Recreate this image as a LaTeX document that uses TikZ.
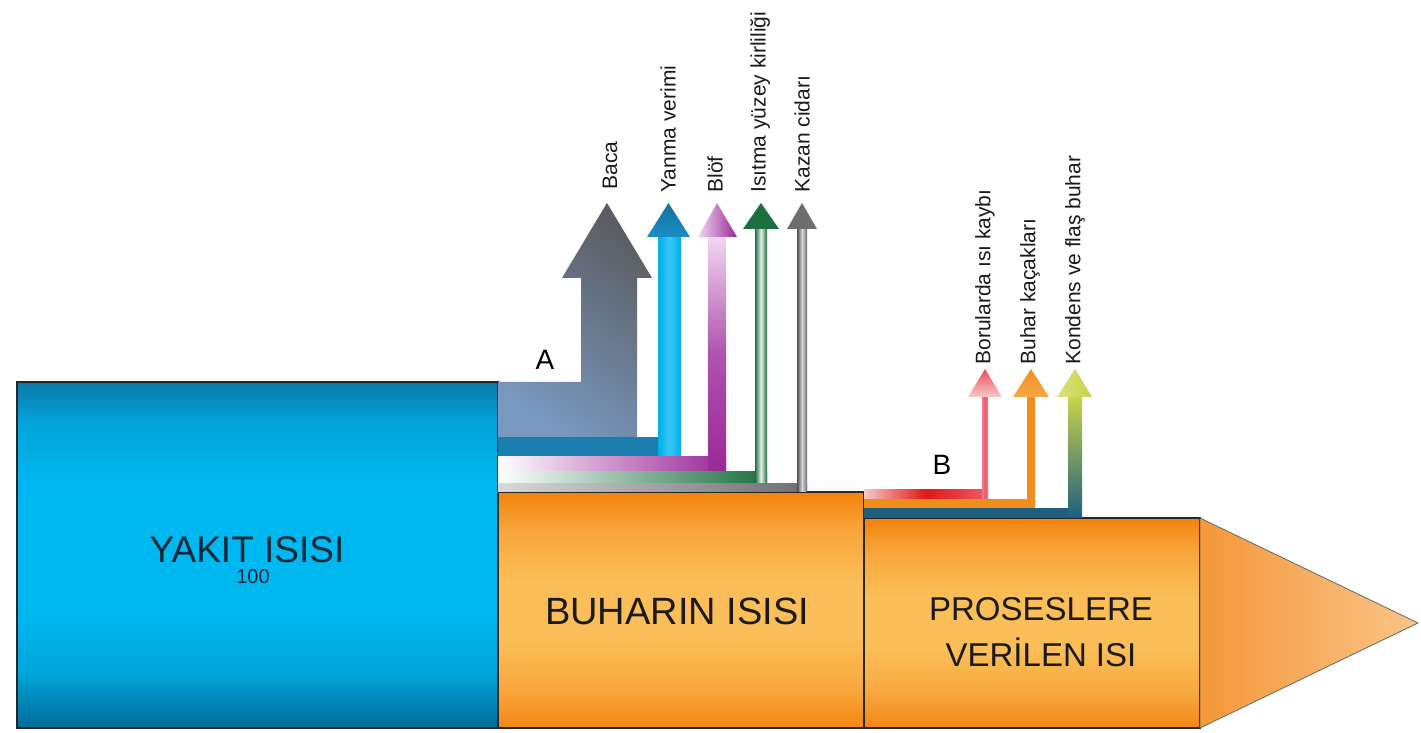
\documentclass[tikz,border=0pt]{standalone}
\usepackage{fontspec}
\setmainfont{Liberation Sans}
\definecolor{fuelTop}{HTML}{0A78A8}
\definecolor{fuelMid}{HTML}{00B8F0}
\definecolor{fuelBot}{HTML}{006A98}
\definecolor{steamTop}{HTML}{F2820E}
\definecolor{steamMid}{HTML}{FBBE58}
\definecolor{steamBot}{HTML}{F38616}
\definecolor{tipL}{HTML}{F4983A}
\definecolor{tipR}{HTML}{FBC488}
\definecolor{slate}{HTML}{5C5D62}
\definecolor{steel}{HTML}{7898BE}
\definecolor{blueBar}{HTML}{1A7FAE}
\definecolor{cyanStem}{HTML}{00AEE6}
\definecolor{cyanLight}{HTML}{38C6F6}
\definecolor{blueHead}{HTML}{1A8EC6}
\definecolor{plum}{HTML}{9A2898}
\definecolor{plumLight}{HTML}{F2D6F0}
\definecolor{leaf}{HTML}{1B7040}
\definecolor{leafLight}{HTML}{E8EEE8}
\definecolor{ash}{HTML}{6E6E70}
\definecolor{ashLight}{HTML}{D8D8D8}
\definecolor{rose}{HTML}{EE5A6A}
\definecolor{roseLight}{HTML}{F8C8C8}
\definecolor{scarlet}{HTML}{E01818}
\definecolor{amber}{HTML}{F08E1C}
\definecolor{amberLight}{HTML}{F6A848}
\definecolor{teal}{HTML}{1D5E7E}
\definecolor{lime}{HTML}{C8D44A}
\definecolor{limeLight}{HTML}{DCE07A}
\definecolor{ink}{HTML}{1A1A1A}
\definecolor{navy}{HTML}{0B2838}
% block fills: dark edges, a wide bright band in the middle
\pgfdeclareverticalshading{fuelfill}{100bp}{color(0bp)=(fuelBot); color(25bp)=(fuelBot);
  color(33bp)=(fuelMid!75!fuelBot); color(42bp)=(fuelMid); color(60bp)=(fuelMid);
  color(69bp)=(fuelMid!70!fuelTop); color(75bp)=(fuelTop); color(100bp)=(fuelTop)}
\pgfdeclareverticalshading{steamfill}{100bp}{color(0bp)=(steamBot); color(25bp)=(steamBot);
  color(34bp)=(steamMid!65!steamBot); color(44bp)=(steamMid); color(56bp)=(steamMid);
  color(67bp)=(steamMid!60!steamTop); color(75bp)=(steamTop); color(100bp)=(steamTop)}
\begin{document}
\begin{tikzpicture}[x=0.5pt,y=0.5pt,
  boxline/.style={draw=black!85,line width=0.6pt},
  lbl/.style={font=\fontsize{10.5}{12}\selectfont,text=ink,inner sep=0pt,rotate=90,anchor=west},
  letter/.style={font=\fontsize{14}{16}\selectfont,text=black,inner sep=0pt},
  boxtext/.style={text=ink,inner sep=0pt,align=center}]
\useasboundingbox (0,0) rectangle (1421,733);

% main energy blocks
\shade[boxline,shading=fuelfill] (17,5) rectangle (498,351);
\shade[boxline,shading=steamfill] (498,5) rectangle (864,241);
\shade[boxline,shading=steamfill] (864,5) rectangle (1200,215);
\shade[left color=tipL,right color=tipR,draw=black!60,line width=0.4pt]
  (1200,215) -- (1418,110) -- (1200,5) -- cycle;

% boiler losses (A)
\shade[shading=axis,top color=slate,bottom color=steel,shading angle=-35]
  (498,351) -- (581,351) -- (581,455) -- (562,455) -- (607,530) -- (652,455)
  -- (637,455) -- (637,296) -- (498,296) -- cycle;

\fill[blueBar] (498,276) rectangle (681,296);
\shade[left color=cyanStem,right color=cyanStem,middle color=cyanLight] (658,276) rectangle (681,496);
\shade[top color=blueHead!80!black,bottom color=blueHead] (647,496) -- (668.5,530) -- (690,496) -- cycle;

\shade[left color=white,right color=plum] (498,261) rectangle (726,276);
\shade[top color=plumLight,bottom color=plum,middle color=plum!80!white] (708,261) rectangle (726,496);
\shade[left color=plumLight,right color=plum] (698,496) -- (717,530) -- (737,496) -- cycle;

\shade[left color=white,right color=leaf] (498,249) rectangle (767,261);
\shade[left color=leaf,right color=leaf,middle color=leafLight] (755,249) rectangle (767,504);
\fill[leaf] (743,504) -- (761,530) -- (779,504) -- cycle;

\shade[left color=ashLight,right color=ash] (498,241) rectangle (807,249);
\shade[left color=ash!70!black,right color=ash,middle color=ashLight] (797,241) rectangle (807,504);
\fill[ash] (787,504) -- (802,530) -- (817,504) -- cycle;

% distribution losses (B)
\shade[left color=roseLight,right color=rose,middle color=scarlet] (864,234) rectangle (988,243);
\shade[left color=rose!80!white,right color=rose!80!white,middle color=rose] (982,234) rectangle (988,336);
\shade[top color=rose!80!scarlet,bottom color=roseLight] (968,336) -- (985,364) -- (1002,336) -- cycle;

\fill[amber] (864,225) rectangle (1035,234);
\fill[amber] (1027,225) rectangle (1035,336);
\shade[top color=amber,bottom color=amberLight] (1013,336) -- (1031,364) -- (1049,336) -- cycle;

\fill[teal] (864,215) rectangle (1082,225);
\shade[top color=lime,bottom color=teal] (1068,215) rectangle (1082,336);
\shade[left color=limeLight,right color=lime] (1057,336) -- (1075,364) -- (1092,336) -- cycle;

% loss labels
\node[lbl] (baca)   at (610,543) {Baca};
\node[lbl] (yanma)  at (668,540) {Yanma verimi};
\node[lbl] (blof)   at (715,540) {Blöf};
\node[lbl] (isitma) at (760,540) {Isıtma yüzey kirliliği};
\node[lbl] (kazan)  at (802,540) {Kazan cidarı};
\node[lbl] (boru)   at (985,368) {Borularda ısı kaybı};
\node[lbl] (kacak)  at (1030,368) {Buhar kaçakları};
\node[lbl] (kondens) at (1075,368) {Kondens ve flaş buhar};

\node[letter] (la) at (545,373) {A};
\node[letter] (lb) at (942,268) {B};

% block titles
\node[boxtext,text=navy,font=\fontsize{18.5}{20}\selectfont] (yakit) at (247,183) {YAKIT ISISI};
\node[boxtext,text=navy,font=\fontsize{10}{12}\selectfont] (yuz) at (253,156) {100};
\node[boxtext,font=\fontsize{19}{22}\selectfont] (buhar) at (677,122) {BUHARIN ISISI};
\node[boxtext,font=\fontsize{16.5}{23}\selectfont] (proses) at (1041,101) {PROSESLERE\\VERİLEN ISI};
\end{tikzpicture}
\end{document}
